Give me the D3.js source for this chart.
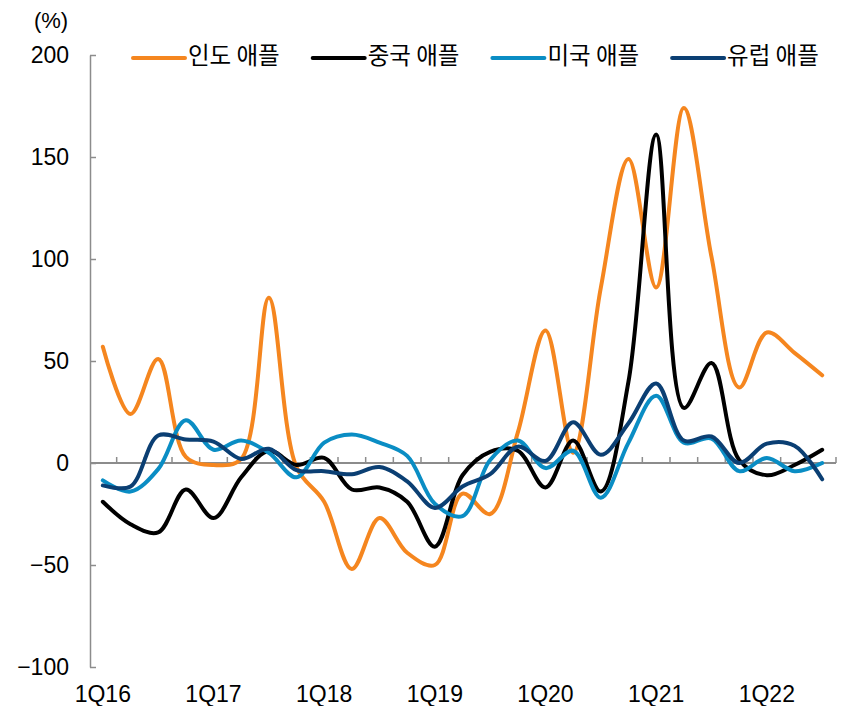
<!DOCTYPE html>
<html>
    <head>
        <meta charset="utf-8">
        <title>Apple growth by region</title>
        <script src="https://d3js.org/d3.v7.min.js"></script>
        <style>
            body { margin: 0; background: #fff; }
            #chart text { font-family: "Liberation Sans", Arial, sans-serif; fill: #000; }
            #chart .kr { font-family: "Noto Sans CJK KR", "Noto Sans", sans-serif; }
        </style>
    </head>

    <body>
        <svg id="chart" width="845" height="706"></svg>

        <script>
            // quarters 1Q16 .. 3Q22
            quarters = ["1Q16","2Q16","3Q16","4Q16","1Q17","2Q17","3Q17","4Q17",
                        "1Q18","2Q18","3Q18","4Q18","1Q19","2Q19","3Q19","4Q19",
                        "1Q20","2Q20","3Q20","4Q20","1Q21","2Q21","3Q21","4Q21",
                        "1Q22","2Q22","3Q22"];
            xLabels = ["1Q16","1Q17","1Q18","1Q19","1Q20","1Q21","1Q22"];
            yTicks = [-100, -50, 0, 50, 100, 150, 200];

            india  = [57, 24, 51, 3, -1, 2, 81, -2, -19, -52, -27, -44, -50, -15, -25, 15,
                      65, 5, 86, 149, 86, 174, 101, 37, 64, 54, 43];
            china  = [-19, -30, -34, -13, -27, -7, 6, -1, 2.5, -13, -12, -19, -41, -6, 5.5, 6,
                      -12, 11, -14, 40, 161, 27, 49, 1.5, -6, -1, 6.5];
            usa    = [-8.5, -14, -3, 21, 6.5, 11, 5, -7, 10, 14, 10, 3.5, -20, -26, 1.5, 11,
                      -2.5, 6, -17, 10, 33, 10, 12, -4, 2.5, -4, 0];
            europe = [-11, -11.5, 13.5, 11.5, 10.5, 2, 7, -3.5, -4, -5.5, -2, -9, -22, -11.5, -5.5, 8,
                      1, 20, 4, 19.5, 39, 11, 13, 0, 9.5, 8.5, -8];

            seriesNames  = ["인도 애플", "중국 애플", "미국 애플", "유럽 애플"];
            seriesColors = ["#F5861F", "#000000", "#0A8DC4", "#0B3F73"];
            seriesData   = [india, china, usa, europe];

            svg = d3.select("#chart");
            axisColor = "#8C8C8C";

            x = d3.scaleBand(quarters, [89, 836]);
            y = d3.scaleLinear([-100, 200], [667, 55]);
            xc = q => x(q) + x.bandwidth() / 2;

            // y axis (ticks inside, to the right)
            yAxis = svg.append("g")
                .attr("transform", "translate(90,0)")
                .call(d3.axisLeft(y).tickValues(yTicks).tickSizeInner(-6).tickSizeOuter(0).tickPadding(21));
            yAxis.selectAll("path, line").attr("stroke", axisColor).attr("stroke-width", 1.5);
            yAxis.selectAll("text").style("font-size", "23px");

            svg.append("text")
                .attr("x", 51).attr("y", 22)
                .attr("text-anchor", "middle").attr("dominant-baseline", "middle")
                .style("font-size", "22px")
                .text("(%)");

            // x axis on the zero line, ticks between quarters
            svg.append("line")
                .attr("x1", 90).attr("x2", x.range()[1])
                .attr("y1", y(0)).attr("y2", y(0))
                .attr("stroke", axisColor).attr("stroke-width", 2);

            svg.append("g").selectAll("line")
                .data(quarters.slice(1).concat(["end"]))
                .join("line")
                .attr("x1", d => d == "end" ? x.range()[1] : x(d))
                .attr("x2", d => d == "end" ? x.range()[1] : x(d))
                .attr("y1", y(0)).attr("y2", y(0) - 6)
                .attr("stroke", axisColor).attr("stroke-width", 1.5);

            svg.append("g").selectAll("text")
                .data(xLabels)
                .join("text")
                .attr("x", d => xc(d))
                .attr("y", 702)
                .attr("text-anchor", "middle")
                .style("font-size", "23px")
                .text(d => d);

            // lines
            line = d3.line()
                .x((d, i) => xc(quarters[i]))
                .y(d => y(d))
                .curve(d3.curveCatmullRom.alpha(0.5));

            svg.append("g").selectAll("path")
                .data(seriesData)
                .join("path")
                .attr("d", d => line(d))
                .attr("fill", "none")
                .attr("stroke", (d, i) => seriesColors[i])
                .attr("stroke-width", 4)
                .attr("stroke-linejoin", "round")
                .attr("stroke-linecap", "round");

            // legend
            leg = svg.append("g").selectAll("g")
                .data(seriesNames)
                .join("g")
                .attr("transform", (d, i) => "translate(" + (133 + i * 179.7) + ",58)");

            leg.append("line")
                .attr("x1", 0).attr("x2", 52)
                .attr("stroke", (d, i) => seriesColors[i])
                .attr("stroke-width", 4)
                .attr("stroke-linecap", "round");

            leg.append("text")
                .attr("class", "kr")
                .attr("x", 55)
                .attr("dominant-baseline", "middle")
                .style("font-size", "23.5px")
                .text(d => d);
        </script>
    </body>
</html>
